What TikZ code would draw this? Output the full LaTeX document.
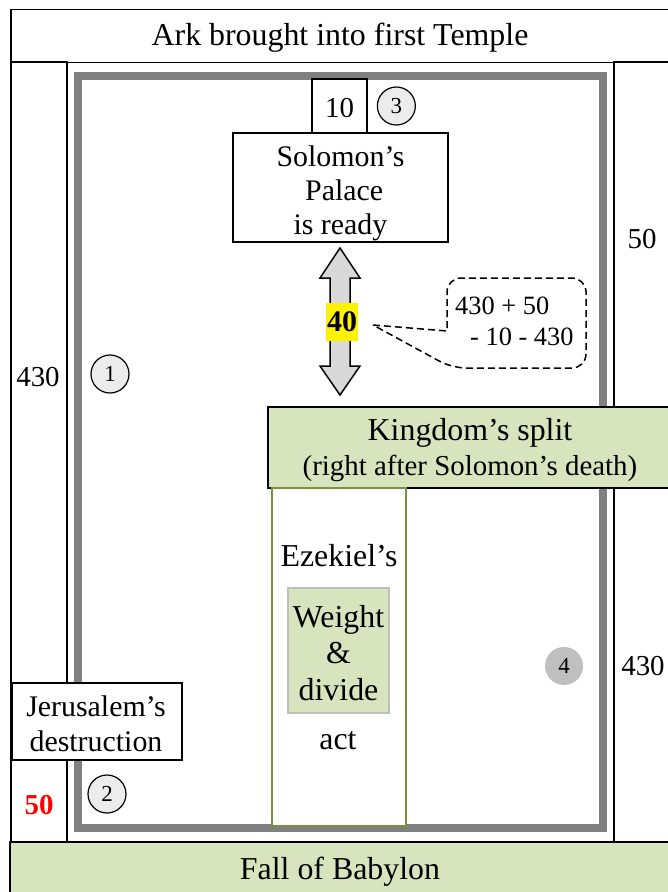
\documentclass[tikz,border=0pt]{standalone}
\usepackage{fontspec}
\setmainfont{Liberation Serif}
\usetikzlibrary{positioning}
\definecolor{paleolive}{HTML}{D7E4BD}
\definecolor{olivedark}{HTML}{77933C}
\definecolor{framegray}{HTML}{808080}
\definecolor{arrowgray}{HTML}{D9D9D9}

\begin{document}
\begin{tikzpicture}[x=1bp,y=-1bp,
  box/.style={draw, line width=1.5bp, inner sep=0pt, align=center, font=\fontsize{30}{35}\selectfont},
  greenbox/.style={box, fill=paleolive},
  num/.style={circle, draw, line width=1.2bp, fill=gray!15, minimum size=38bp, inner sep=0pt, font=\fontsize{23}{26}\selectfont},
  txt/.style={inner sep=0pt, align=center, font=\fontsize{29}{35}\selectfont},
  bigtxt/.style={font=\fontsize{32}{36}\selectfont}]
\useasboundingbox (0,0) rectangle (668,892);
\fill[white] (0,0) rectangle (668,892);
% side columns
\draw[line width=1.5bp] (11,62) rectangle (67,842);
\draw[line width=1.5bp] (614,62) rectangle (680,842);
% inner frame
\draw[framegray, line width=8bp] (78,76) rectangle (603,828);
% boxes
\node[box, minimum width=662bp, minimum height=53bp] (ark) at (342,36) {};
\node[txt, bigtxt] (arktext) at (340,38) {Ark brought into first Temple};
\node[box, minimum width=55bp, minimum height=54bp] (ten) at (339.5,106) {};
\node[txt] (tentext) at (339.5,108) {10};
\node[num, right=9bp of ten] (three) {3};
\node[box, minimum width=215bp, minimum height=109bp, fill=white] (palace) at (340.5,187.5) {};
\node[txt, font=\fontsize{30}{34}\selectfont] (palacetext) at (340.5,193) {Solomon’s\\ \ Palace\\is ready};
\node[greenbox, minimum width=404bp, minimum height=81bp] (split) at (470,447.5) {};
\node[txt, font=\fontsize{32}{36}\selectfont] (splittext) at (470,433) {Kingdom’s split};
\node[txt, font=\fontsize{29}{34}\selectfont] (splitsub) at (470,468) {(right after Solomon’s death)};
\node[draw=olivedark, line width=1.2bp, fill=white, minimum width=134bp, minimum height=338bp, inner sep=0pt] (ezcol) at (339,657) {};
\node[txt, bigtxt] (ezek) at (339,556) {Ezekiel’s};
\node[draw=gray!50, line width=1.5bp, fill=paleolive, minimum width=101bp, minimum height=125bp, inner sep=0pt] (weigh) at (338.5,650.5) {};
\node[txt, font=\fontsize{32}{36.5}\selectfont] (weightext) at (338.5,653) {Weight\\\&\\divide};
\node[txt, bigtxt] (act) at (338,741) {act};
\node[box, minimum width=170bp, minimum height=77bp, fill=white] (jeru) at (97,721.5) {};
\node[txt, font=\fontsize{30}{35}\selectfont] (jerutext) at (96,724) {Jerusalem’s\\destruction};
\node[greenbox, minimum width=662bp, minimum height=54bp] (fall) at (341,869) {};
\node[txt, bigtxt] (falltext) at (340,872) {Fall of Babylon};
% numbers on the sides
\node[txt] (left430) at (38,377) {430};
\node[txt, text=red, font=\bfseries\fontsize{29}{35}\selectfont] (left50) at (39,805) {50};
\node[txt] (right50) at (642,239) {50};
\node[txt] (right430) at (643,666) {430};
% circled numbers
\node[num] (one) at (110,374) {1};
\node[num] (two) at (107,794) {2};
\node[num, draw=none, fill=gray!50] (four) at (564,666) {4};
% double arrow
\draw[line width=1.5bp, fill=arrowgray] (340,248) -- (360,278) -- (350,278) -- (350,366) -- (360,366)
  -- (340,395) -- (320,366) -- (330,366) -- (330,278) -- (320,278) -- cycle;
\node[fill=yellow, inner sep=1bp, minimum width=32bp, minimum height=38bp, font=\bfseries\fontsize{30}{35}\selectfont] (forty) at (342,322) {40};
% callout
\coordinate (tip) at (373,325);
\draw[line width=1.5bp, dash pattern=on 7bp off 4bp] (tip) -- (447,331) [rounded corners=14bp] -- (447,278) -- (586,278) -- (586,368) -- (452,368) [sharp corners] -- (tip);
\node[txt, anchor=north west, align=left, font=\fontsize{26.5}{31}\selectfont] (sum) at (455,297) {430 + 50\\\hspace*{15bp}- 10 - 430};
\end{tikzpicture}
\end{document}
